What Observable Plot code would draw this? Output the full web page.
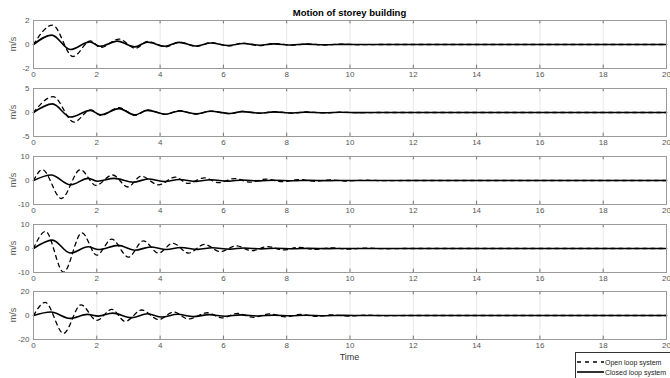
<!DOCTYPE html>
<html><head><meta charset="utf-8">
<script src="https://cdn.jsdelivr.net/npm/d3@7"></script>
<script src="https://cdn.jsdelivr.net/npm/@observablehq/plot@0.6"></script>
<style>
body{margin:0;background:#fff;font-family:"Liberation Sans",Arial,sans-serif;}
#wrap{position:relative;width:670px;height:378px;overflow:hidden;background:#fff;}
.panel{position:absolute;left:0;}
.ylab{position:absolute;left:13px;font-size:9px;color:#555;transform:translate(-50%,-50%) rotate(-90deg);white-space:nowrap;}
#title{position:absolute;top:7px;left:0;width:699px;text-align:center;font-weight:bold;font-size:9.5px;color:#000;}
#xlab{position:absolute;top:352px;left:0;width:699px;text-align:center;font-size:9px;color:#333;}
#legend{position:absolute;left:575px;top:352px;width:110px;height:40px;border:1px solid #333;background:#fff;font-size:7px;color:#222;}
#legend .row{position:absolute;left:1px;height:10px;display:flex;align-items:center;}
#legend svg{display:block;margin-right:1px;}
</style></head>
<body><div id="wrap">
<div id="title">Motion of storey building</div>
<div id="xlab">Time</div>
<div id="legend"></div>
</div>
<script>
// x axis ticks
const xTicks = [0, 2, 4, 6, 8, 10, 12, 14, 16, 18, 20];
// y ranges per panel
const yLimits = [2, 5, 10, 10, 20];
const yLabel = "m/s";
const seriesNames = ["Open loop system", "Closed loop system"];

// [time, velocity] readings (extrema) for each storey
const open1 = [[0,0],[0.6,1.62],[1.25,-1.0],[1.8,0.3],[2.12,-0.25],[2.7,0.45],[3.22,-0.32],[3.6,0.25],[4.18,-0.2],[4.6,0.2],[5.15,-0.16],[5.6,0.15],[6.2,-0.12],[6.6,0.12],[7.15,-0.1],[7.6,0.08],[8.2,-0.06],[8.6,0.05],[9.2,-0.04],[9.7,0.03],[10.3,-0.02],[11,0],[20,0]];
const closed1 = [[0,0],[0.58,0.78],[1.16,-0.42],[1.78,0.22],[2.1,-0.15],[2.65,0.28],[3.2,-0.2],[3.6,0.2],[4.15,-0.14],[4.6,0.18],[5.15,-0.12],[5.6,0.12],[6.15,-0.08],[6.62,0.08],[7.15,-0.06],[7.6,0.05],[8.15,-0.04],[8.6,0.03],[9.2,-0.02],[9.8,0.01],[10.5,0],[20,0]];
const open2 = [[0,0],[0.62,3.3],[1.28,-2.0],[1.8,0.55],[2.12,-0.6],[2.7,1.0],[3.22,-0.6],[3.6,0.55],[4.18,-0.4],[4.6,0.4],[5.15,-0.32],[5.6,0.3],[6.2,-0.24],[6.6,0.22],[7.15,-0.17],[7.6,0.15],[8.2,-0.12],[8.6,0.1],[9.2,-0.07],[9.7,0.05],[10.3,-0.03],[11,0],[20,0]];
const closed2 = [[0,0],[0.6,1.8],[1.17,-0.95],[1.8,0.45],[2.12,-0.5],[2.7,0.8],[3.2,-0.5],[3.6,0.45],[4.18,-0.35],[4.6,0.32],[5.15,-0.28],[5.6,0.25],[6.2,-0.2],[6.6,0.18],[7.15,-0.14],[7.6,0.12],[8.2,-0.1],[8.6,0.08],[9.2,-0.06],[9.7,0.04],[10.3,-0.02],[11,0],[20,0]];
const open3 = [[0,0],[0.28,4.5],[0.88,-7.5],[1.48,4.5],[1.97,-2.0],[2.5,2.3],[2.98,-2.7],[3.4,1.8],[3.95,-1.8],[4.48,1.4],[4.88,-1.2],[5.4,1.1],[5.85,-0.9],[6.35,0.8],[6.85,-0.7],[7.35,0.6],[7.85,-0.5],[8.4,0.4],[8.9,-0.35],[9.4,0.25],[9.9,-0.2],[10.5,0.12],[11.1,-0.08],[11.8,0],[20,0]];
const closed3 = [[0,0],[0.56,2.3],[1.16,-1.8],[1.73,0.9],[2.02,-0.3],[2.55,0.9],[3.15,-0.7],[3.62,0.6],[4.15,-0.45],[4.6,0.4],[5.15,-0.35],[5.6,0.3],[6.15,-0.25],[6.6,0.2],[7.15,-0.15],[7.6,0.12],[8.2,-0.1],[8.7,0.07],[9.3,-0.05],[9.9,0.03],[10.6,0],[20,0]];
const open4 = [[0,0],[0.38,7.1],[0.95,-9.9],[1.53,6.5],[2.0,-2.8],[2.47,3.9],[3.0,-3.6],[3.47,3.2],[3.95,-1.9],[4.4,2.2],[4.9,-1.9],[5.4,1.7],[5.9,-1.3],[6.4,1.1],[6.9,-0.9],[7.4,0.8],[7.9,-0.6],[8.4,0.5],[8.9,-0.4],[9.4,0.3],[9.9,-0.25],[10.5,0.15],[11.1,-0.1],[11.8,0],[20,0]];
const closed4 = [[0,0],[0.6,3.5],[1.16,-1.9],[1.73,0.7],[2.05,-0.4],[2.68,1.3],[3.2,-0.7],[3.7,0.6],[4.2,-0.4],[4.65,0.4],[5.2,-0.35],[5.65,0.3],[6.2,-0.25],[6.65,0.2],[7.2,-0.15],[7.65,0.12],[8.2,-0.1],[8.7,0.07],[9.3,-0.05],[9.9,0.03],[10.6,0],[20,0]];
const open5 = [[0,0],[0.37,10.9],[0.95,-14.9],[1.5,8.9],[2.0,-4.0],[2.47,5.1],[2.9,-4.9],[3.42,4.6],[3.95,-3.4],[4.43,2.9],[4.9,-2.9],[5.5,2.3],[5.95,-2.0],[6.45,1.7],[6.95,-1.5],[7.45,1.3],[7.95,-1.1],[8.45,0.9],[8.95,-0.8],[9.45,0.6],[9.95,-0.5],[10.5,0.35],[11.1,-0.2],[11.8,0],[20,0]];
const closed5 = [[0,0],[0.55,2.9],[1.15,-2.4],[1.7,0.9],[2.05,-0.5],[2.5,2.0],[3.1,-1.8],[3.6,1.4],[4.05,-1.3],[4.55,1.0],[5.05,-0.9],[5.55,0.7],[6.05,-0.6],[6.55,0.5],[7.1,-0.4],[7.6,0.3],[8.1,-0.25],[8.6,0.2],[9.2,-0.15],[9.8,0.1],[10.5,0],[20,0]];

const openSeries = [open1, open2, open3, open4, open5];
const closedSeries = [closed1, closed2, closed3, closed4, closed5];

const panelTops = [20, 88, 156, 224, 291];
const wrap = document.getElementById("wrap");
const mt = 4, plotH = 48;

yLimits.forEach((lim, i) => {
  const yT = [-lim, 0, lim];
  const tick = lim * 2 * 0.07;
  const chart = Plot.plot({
    width: 670, height: mt + plotH + 14,
    marginTop: mt, marginBottom: 14, marginLeft: 33, marginRight: 4,
    style: {fontSize: "8px", fontFamily: "Liberation Sans, Arial, sans-serif", color: "#555", background: "transparent", overflow: "visible"},
    x: {domain: [0, 20]},
    y: {domain: [-lim, lim]},
    marks: [
      Plot.ruleX(xTicks, {stroke: "#e8e8e8", strokeWidth: 1}),
      Plot.ruleX(xTicks, {y1: -lim, y2: -lim + tick, stroke: "#555", strokeWidth: 0.8}),
      Plot.ruleX(xTicks, {y1: lim, y2: lim - tick, stroke: "#555", strokeWidth: 0.8}),
      Plot.line(openSeries[i], {x: d => d[0], y: d => d[1], curve: "monotone-x", stroke: "#000", strokeWidth: 1.3, strokeDasharray: "4,4"}),
      Plot.line(closedSeries[i], {x: d => d[0], y: d => d[1], curve: "monotone-x", stroke: "#000", strokeWidth: 1.6}),
      Plot.frame({stroke: "#9a9a9a", strokeWidth: 1}),
      Plot.axisX(xTicks, {anchor: "bottom", tickSize: 0, tickPadding: 3, label: null, tickFormat: d => String(d)}),
      Plot.axisY(yT, {anchor: "left", tickSize: 0, tickPadding: 4, label: null, tickFormat: d => String(d)})
    ]
  });
  chart.classList.add("panel");
  chart.style.top = (panelTops[i] - mt) + "px";
  wrap.appendChild(chart);
  const lab = document.createElement("div");
  lab.className = "ylab";
  lab.textContent = yLabel;
  lab.style.top = (panelTops[i] + plotH / 2) + "px";
  wrap.appendChild(lab);
});

// legend
const leg = document.getElementById("legend");
seriesNames.forEach((name, k) => {
  const row = document.createElement("div");
  row.className = "row";
  row.style.top = (k === 0 ? 4 : 14) + "px";
  row.innerHTML = `<svg width="27" height="6"><line x1="0" y1="3" x2="27" y2="3" stroke="#000" stroke-width="${k === 0 ? 1.3 : 1.6}" ${k === 0 ? 'stroke-dasharray="4,4"' : ''}/></svg><span>${name}</span>`;
  leg.appendChild(row);
});
</script>
</body></html>
